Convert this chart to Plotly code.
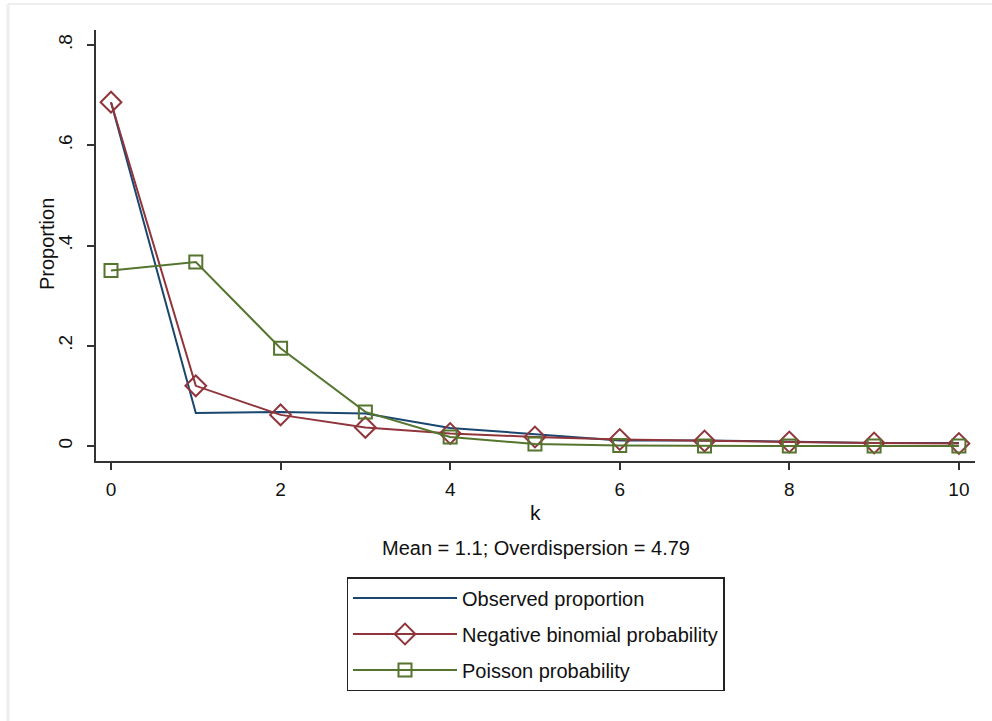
import plotly.graph_objects as go

k = list(range(11))
observed = [0.686, 0.066, 0.068, 0.065, 0.036, 0.024, 0.011, 0.011, 0.008, 0.006, 0.006]
negbin = [0.686, 0.120, 0.062, 0.037, 0.025, 0.018, 0.013, 0.010, 0.008, 0.006, 0.005]
poisson = [0.350, 0.367, 0.195, 0.068, 0.018, 0.004, 0.001, 0.000, 0.000, 0.000, 0.000]

series_names = ["Observed proportion", "Negative binomial probability", "Poisson probability"]
x_ticks = [0, 2, 4, 6, 8, 10]
y_ticks = [0, 0.2, 0.4, 0.6, 0.8]
y_ticklabels = ["0", ".2", ".4", ".6", ".8"]
note_text = "Mean = 1.1; Overdispersion = 4.79"
x_title = "k"
y_title = "Proportion"

NAVY = "#1a476f"
MAROON = "#90353b"
GREEN = "#55752f"
FONT = "Liberation Sans, Arial, sans-serif"
TXT = "#111111"

fig = go.Figure()
fig.add_trace(go.Scatter(x=k, y=observed, mode="lines", name=series_names[0],
                         legendgroup="a",
                         line=dict(color=NAVY, width=2)))
fig.add_trace(go.Scatter(x=k, y=negbin, mode="lines+markers", name=series_names[1],
                         legendgroup="b",
                         line=dict(color=MAROON, width=2),
                         marker=dict(symbol="diamond-open", size=16, color=MAROON,
                                     line=dict(width=2, color=MAROON))))
fig.add_trace(go.Scatter(x=k, y=poisson, mode="lines+markers", name=series_names[2],
                         legendgroup="c",
                         line=dict(color=GREEN, width=2),
                         marker=dict(symbol="square-open", size=13, color=GREEN,
                                     line=dict(width=2, color=GREEN))))

L, R, T, B = 96, 17, 30, 260
W, H = 992, 721
pw = W - L - R
ph = H - T - B

def px_x(p):
    return (p - L) / pw

def px_y(p):
    return (H - B - p) / ph

fig.update_layout(
    width=W, height=H,
    margin=dict(l=L, r=R, t=T, b=B, pad=0),
    paper_bgcolor="white", plot_bgcolor="white",
    font=dict(family=FONT, size=19, color=TXT),
    showlegend=True,
    legend=dict(x=0.5, xanchor="center", y=px_y(577), yanchor="top",
                bordercolor="#222222", borderwidth=1.5, bgcolor="white",
                font=dict(size=20, family=FONT, color=TXT),
                itemwidth=104, tracegroupgap=7),
    xaxis=dict(range=[-0.177, 10.19], tickvals=x_ticks, showgrid=False, zeroline=False,
               showline=True, linecolor="#333333", linewidth=1.6,
               ticks="outside", ticklen=7, tickwidth=1.5, tickcolor="#333333",
               tickfont=dict(size=19), ticklabelstandoff=3),
    yaxis=dict(range=[-0.03, 0.83], tickvals=y_ticks, ticktext=y_ticklabels,
               showgrid=False, zeroline=False,
               showline=True, linecolor="#333333", linewidth=1.6,
               ticks="outside", ticklen=7, tickwidth=1.5, tickcolor="#333333",
               tickangle=-90, tickfont=dict(size=19), ticklabelstandoff=8),
    annotations=[
        dict(text=note_text, x=0.5, y=px_y(548), xref="paper", yref="paper",
             xanchor="center", yanchor="middle", showarrow=False,
             font=dict(size=20, family=FONT, color=TXT)),
        dict(text=x_title, x=0.5, y=px_y(512), xref="paper", yref="paper",
             xanchor="center", yanchor="middle", showarrow=False,
             font=dict(size=21, family=FONT, color=TXT)),
        dict(text=y_title, x=px_x(47), y=px_y(244), xref="paper", yref="paper",
             xanchor="center", yanchor="middle", showarrow=False, textangle=-90,
             font=dict(size=20, family=FONT, color=TXT)),
    ],
    shapes=[
        dict(type="line", xref="paper", yref="paper", x0=px_x(8), x1=px_x(8),
             y0=px_y(4), y1=px_y(721), line=dict(color="#eeeeee", width=3)),
        dict(type="line", xref="paper", yref="paper", x0=px_x(8), x1=px_x(992),
             y0=px_y(4), y1=px_y(4), line=dict(color="#eeeeee", width=2)),
    ],
)

fig.write_html("out.html", config={"displayModeBar": False},
               post_script="document.body.style.margin='0';")
